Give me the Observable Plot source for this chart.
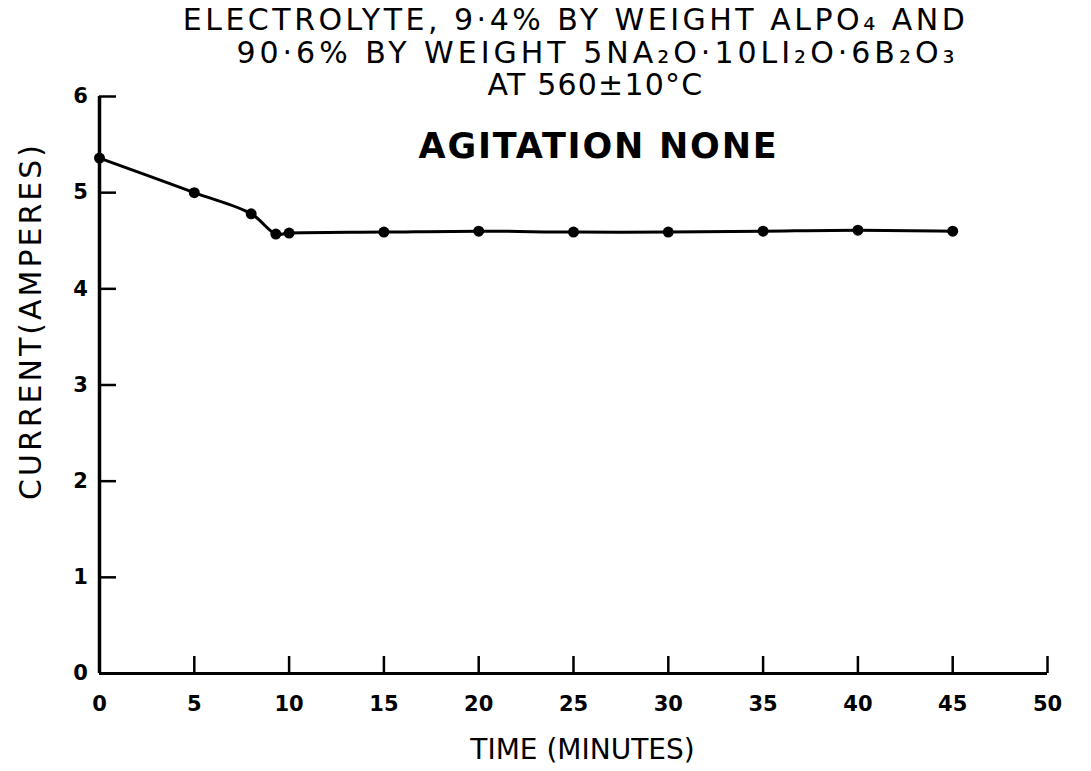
<!DOCTYPE html>
<html>
<head>
<meta charset="utf-8">
<script src="https://cdn.jsdelivr.net/npm/d3@7"></script>
<script src="https://cdn.jsdelivr.net/npm/@observablehq/plot@0.6"></script>
<style>
  html, body { margin: 0; padding: 0; background: #fff; }
  #chart svg { display: block; }
</style>
</head>
<body>
<div id="chart"></div>
<script>
const timeMin = [0, 5, 8, 9.3, 10, 15, 20, 25, 30, 35, 40, 45];
const currentA = [5.36, 5.0, 4.78, 4.57, 4.58, 4.59, 4.6, 4.59, 4.59, 4.6, 4.61, 4.6];
const xTicks = [0, 5, 10, 15, 20, 25, 30, 35, 40, 45, 50];
const yTicks = [0, 1, 2, 3, 4, 5, 6];
const titleLine1 = "ELECTROLYTE, 9·4% BY WEIGHT ALPO\u2084 AND";
const titleLine2 = "90·6% BY WEIGHT 5NA\u2082O·10LI\u2082O·6B\u2082O\u2083";
const titleLine3 = "AT 560±10°C";
const subTitle = "AGITATION NONE";
const xLabel = "TIME (MINUTES)";
const yLabel = "CURRENT(AMPERES)";

const data = timeMin.map((t, i) => ({t, c: currentA[i]}));

const W = 1091, H = 771;
const mL = 99, mR = 44, mT = 96, mB = 98;
const frameW = W - mL - mR, frameH = H - mT - mB;
const font = "DejaVu Sans, sans-serif";
const txt = {textAnchor: "middle", lineAnchor: "middle", fill: "#000", text: d => d};

const plot = Plot.plot({
  width: W,
  height: H,
  marginLeft: mL,
  marginRight: mR,
  marginTop: mT,
  marginBottom: mB,
  style: {fontFamily: font, color: "#000", background: "#fff", overflow: "visible"},
  x: {domain: [0, 50], axis: null},
  y: {domain: [0, 6], axis: null},
  marks: [
    // axis lines
    Plot.ruleY([0], {x1: 0, x2: 50, stroke: "#000", strokeWidth: 3}),
    Plot.ruleX([0], {y1: 0, y2: 6, stroke: "#000", strokeWidth: 3.5}),
    // inward ticks
    Plot.tickX(xTicks.slice(1), {x: d => d, stroke: "#000", strokeWidth: 2.5, insetTop: frameH - 17}),
    Plot.tickY(yTicks.slice(1), {y: d => d, stroke: "#000", strokeWidth: 2.5, insetRight: frameW - 17}),
    // tick labels
    Plot.text(xTicks, {...txt, x: d => d, frameAnchor: "bottom", dy: 31, text: d => String(d), fontSize: 21, fontWeight: "bold"}),
    Plot.text(yTicks, {...txt, y: d => d, frameAnchor: "left", dx: -19, text: d => String(d), fontSize: 21, fontWeight: "bold"}),
    // axis titles
    Plot.text([xLabel], {...txt, frameAnchor: "bottom", dx: 9, dy: 77, fontSize: 28, ariaLabel: () => "xlabel"}),
    Plot.text([yLabel], {...txt, frameAnchor: "left", dx: -68, dy: -64, rotate: -90, fontSize: 30, ariaLabel: () => "ylabel"}),
    // titles
    Plot.text([titleLine1], {...txt, frameAnchor: "top", dx: 2, dy: -76, fontSize: 30, ariaLabel: () => "t1"}),
    Plot.text([titleLine2], {...txt, frameAnchor: "top", dx: 24, dy: -43, fontSize: 30, ariaLabel: () => "t2"}),
    Plot.text([titleLine3], {...txt, frameAnchor: "top", dx: 22, dy: -11, fontSize: 30, ariaLabel: () => "t3"}),
    Plot.text([subTitle], {...txt, frameAnchor: "top", dx: 25, dy: 50, fontSize: 35, fontWeight: "bold", ariaLabel: () => "sub"}),
    // data
    Plot.line(data, {x: "t", y: "c", curve: "catmull-rom", stroke: "#000", strokeWidth: 3}),
    Plot.dot(data, {x: "t", y: "c", r: 5.5, fill: "#000", stroke: "none"})
  ]
});
const spacing = {t1: 3.5, t2: 4, t3: 1.2, sub: 1.8, ylabel: 3, xlabel: 0};
for (const [k, v] of Object.entries(spacing)) {
  d3.select(plot).selectAll(`[aria-label="${k}"] text, text[aria-label="${k}"]`).attr("letter-spacing", v);
}
document.getElementById("chart").appendChild(plot);
</script>
</body>
</html>
